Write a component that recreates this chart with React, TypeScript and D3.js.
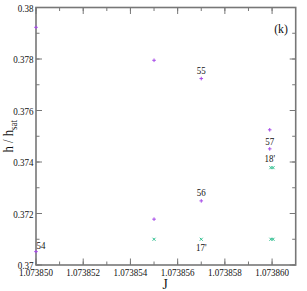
import React from "react";
import * as d3 from "d3";

const W = 307;
const H = 291;

const xTicks = [1.07385, 1.073852, 1.073854, 1.073856, 1.073858, 1.07386];
const xTickLabels = ["1.073850", "1.073852", "1.073854", "1.073856", "1.073858", "1.073860"];
const yTicks = [0.37, 0.372, 0.374, 0.376, 0.378, 0.38];
const yTickLabels = ["0.37", "0.372", "0.374", "0.376", "0.378", "0.38"];

const plusX = [1.07385, 1.07385, 1.073855, 1.073855, 1.073857, 1.073857, 1.0738599, 1.0738599];
const plusY = [0.37923, 0.37052, 0.37795, 0.37178, 0.37724, 0.37249, 0.37525, 0.37451];

const crossX = [1.073855, 1.073857, 1.07385995, 1.07386004, 1.07385995, 1.07386004];
const crossY = [0.371, 0.371, 0.371, 0.371, 0.37378, 0.37378];

const annText = ["55", "56", "57", "18'", "17'", "54"];
const annX = [1.073857, 1.073857, 1.0738599, 1.0738599, 1.073857, 1.07385];
const annY = [0.37724, 0.37249, 0.37451, 0.37378, 0.371, 0.37052];

const annDX = [0, 0, 0, 0, 0, 5];
const annDY = [-5, -5, -3.5, -6, 12, -3];
const annAnchor = ["middle", "middle", "middle", "middle", "middle", "middle"];

const PLUS = "#a64ae8";
const CROSS = "#2fbf90";
const FRAME = "#777777";

function CText({ x, y, size, anchor, children, sx = 0.82 }: any) {
  return (
    <text
      transform={`translate(${x},${y}) scale(${sx},1)`}
      fontSize={size}
      textAnchor={anchor}
      fontFamily="'Liberation Serif', serif"
      fill="#111"
    >
      {children}
    </text>
  );
}

export default function App() {
  const L = 36, R = 295.7, T = 7.5, B = 265;
  const x = d3.scaleLinear().domain([1.07385, 1.073861]).range([L, R]);
  const y = d3.scaleLinear().domain([0.37, 0.38]).range([B, T]);

  const xMinor = d3.range(0, 12).map((i) => 1.07385 + i * 0.000001).filter((v) => v < 1.0738609);
  const yMinor = d3.range(0, 11).map((i) => 0.37 + i * 0.001);

  return (
    <svg width={W} height={H} style={{ position: "absolute", left: 0, top: 0, background: "#fff" }}>
      <rect x={0} y={0} width={W} height={H} fill="#fff" />
      {/* minor ticks */}
      {xMinor.map((v, i) => (
        <g key={"xm" + i} stroke={FRAME} strokeWidth={1}>
          <line x1={x(v)} x2={x(v)} y1={B} y2={B - 3.5} />
          <line x1={x(v)} x2={x(v)} y1={T} y2={T + 3.5} />
        </g>
      ))}
      {yMinor.map((v, i) => (
        <g key={"ym" + i} stroke={FRAME} strokeWidth={1}>
          <line x1={L} x2={L + 3.5} y1={y(v)} y2={y(v)} />
          <line x1={R} x2={R - 3.5} y1={y(v)} y2={y(v)} />
        </g>
      ))}
      {/* major ticks */}
      {xTicks.map((v, i) => (
        <g key={"xt" + i} stroke={FRAME} strokeWidth={1}>
          <line x1={x(v)} x2={x(v)} y1={B} y2={B - 6.5} />
          <line x1={x(v)} x2={x(v)} y1={T} y2={T + 6.5} />
        </g>
      ))}
      {yTicks.map((v, i) => (
        <g key={"yt" + i} stroke={FRAME} strokeWidth={1}>
          <line x1={L} x2={L + 6} y1={y(v)} y2={y(v)} />
          <line x1={R} x2={R - 6} y1={y(v)} y2={y(v)} />
        </g>
      ))}
      <rect x={L} y={T} width={R - L} height={B - T} fill="none" stroke={FRAME} strokeWidth={1.6} />

      {xTicks.map((v, i) => (
        <CText key={"xl" + i} x={x(v)} y={B + 11} size={11} anchor="middle">
          {xTickLabels[i]}
        </CText>
      ))}
      {yTicks.map((v, i) => (
        <CText key={"yl" + i} x={L - 2.5} y={y(v) + 4} size={11} anchor="end">
          {yTickLabels[i]}
        </CText>
      ))}

      {/* series */}
      {plusX.map((v, i) => (
        <g key={"p" + i} stroke={PLUS} strokeWidth={1}>
          <line x1={x(v) - 1.8} x2={x(v) + 1.8} y1={y(plusY[i])} y2={y(plusY[i])} />
          <line x1={x(v)} x2={x(v)} y1={y(plusY[i]) - 1.8} y2={y(plusY[i]) + 1.8} />
        </g>
      ))}
      {crossX.map((v, i) => (
        <g key={"c" + i} stroke={CROSS} strokeWidth={1}>
          <line x1={x(v) - 1.5} x2={x(v) + 1.5} y1={y(crossY[i]) - 1.5} y2={y(crossY[i]) + 1.5} />
          <line x1={x(v) - 1.5} x2={x(v) + 1.5} y1={y(crossY[i]) + 1.5} y2={y(crossY[i]) - 1.5} />
        </g>
      ))}

      {annText.map((t, i) => (
        <CText
          key={"a" + i}
          x={x(annX[i]) + annDX[i]}
          y={y(annY[i]) + annDY[i]}
          size={10.5}
          anchor={annAnchor[i]}
          sx={0.85}
        >
          {t}
        </CText>
      ))}

      <CText x={281} y={33} size={13} anchor="middle" sx={0.9}>
        (k)
      </CText>

      <CText x={165} y={289} size={15} anchor="middle" sx={0.9}>
        J
      </CText>

      <text
        transform={`translate(13,${(T + B) / 2}) rotate(-90) scale(0.9,1)`}
        fontSize={14}
        textAnchor="middle"
        fontFamily="'Liberation Serif', serif"
        fill="#111"
      >
        h / h
        <tspan fontSize={10} dy={4}>sat</tspan>
      </text>
    </svg>
  );
}
